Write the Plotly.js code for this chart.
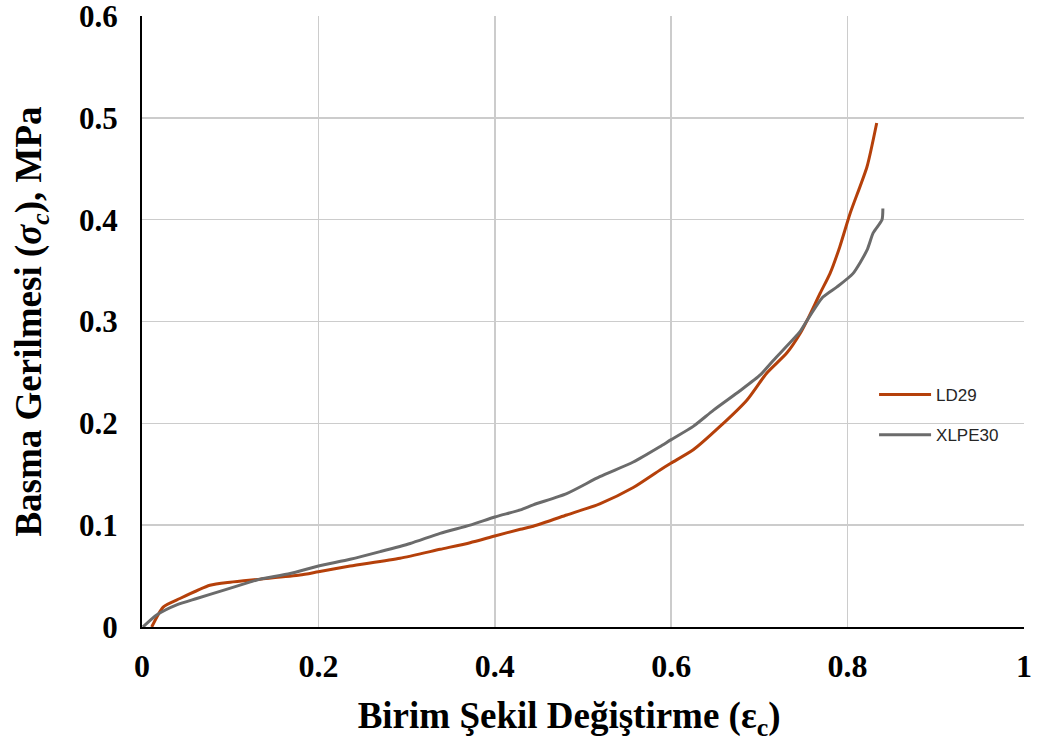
<!DOCTYPE html>
<html>
<head>
<meta charset="utf-8">
<script src="https://cdn.plot.ly/plotly-3.0.1.min.js"></script>
<style>html,body{margin:0;padding:0;background:#fff;}#chart{width:1037px;height:742px;}</style>
</head>
<body>
<div id="chart"></div>
<script>
// LD29 series (strain, stress MPa)
const ld29Strain = [0.011,0.024,0.043,0.077,0.1,0.134,0.179,0.2,0.236,0.2925,0.338,0.372,0.4,0.429,0.4436,0.4815,0.519,0.557,0.587,0.6,0.625,0.655,0.686,0.708,0.731,0.746,0.754,0.769,0.780,0.791,0.803,0.822,0.833];
const ld29Stress = [0,0.0196,0.028,0.041,0.044,0.047,0.051,0.0543,0.0599,0.0675,0.0763,0.0828,0.0894,0.096,0.099,0.110,0.121,0.137,0.154,0.161,0.174,0.1967,0.223,0.249,0.269,0.288,0.301,0.328,0.347,0.373,0.4065,0.452,0.495];
// XLPE30 series
const xlpeStrain = [0.001,0.017,0.04,0.062,0.092,0.122,0.134,0.168,0.2,0.236,0.270,0.304,0.338,0.372,0.400,0.429,0.4436,0.4815,0.519,0.557,0.587,0.6,0.625,0.648,0.678,0.701,0.716,0.746,0.754,0.772,0.788,0.806,0.822,0.829,0.839,0.840];
const xlpeStress = [0,0.012,0.022,0.028,0.036,0.044,0.047,0.0525,0.0599,0.0665,0.074,0.082,0.092,0.100,0.108,0.115,0.120,0.131,0.1476,0.162,0.177,0.184,0.197,0.213,0.232,0.2475,0.262,0.290,0.301,0.324,0.334,0.347,0.370,0.387,0.400,0.411];
const seriesNames = ["LD29", "XLPE30"];
const xTicks = [0, 0.2, 0.4, 0.6, 0.8, 1];
const xTickText = ["0", "0.2", "0.4", "0.6", "0.8", "1"];
const yTicks = [0, 0.1, 0.2, 0.3, 0.4, 0.5, 0.6];
const yTickText = ["0", "0.1", "0.2", "0.3", "0.4", "0.5", "0.6"];

const traces = [
  {x: ld29Strain, y: ld29Stress, name: seriesNames[0], type: 'scatter', mode: 'lines',
   line: {color: '#B5400A', width: 3, shape: 'spline', smoothing: 0.6}, legendgroup: 'a'},
  {x: xlpeStrain, y: xlpeStress, name: seriesNames[1], type: 'scatter', mode: 'lines',
   line: {color: '#6B6B6B', width: 3, shape: 'spline', smoothing: 0.6}, legendgroup: 'b'}
];

const serif = 'Liberation Serif, Times New Roman, serif';
const layout = {
  width: 1037, height: 742,
  paper_bgcolor: '#fff', plot_bgcolor: '#fff',
  margin: {l: 142, r: 13, t: 16, b: 115},
  showlegend: true,
  legend: {x: 0.83, y: 0.347, xanchor: 'left', yanchor: 'middle', bgcolor: 'rgba(0,0,0,0)',
           font: {family: 'Liberation Sans, Arial, sans-serif', size: 17, color: '#262626'},
           tracegroupgap: 15, itemwidth: 52},
  xaxis: {range: [0, 1], tickvals: xTicks, ticktext: xTickText, showgrid: true,
          gridcolor: '#cccccc', gridwidth: 1.5, zeroline: false, showline: true,
          linecolor: '#000', linewidth: 2, ticks: '', ticklabelstandoff: 10,
          ticklabeloverflow: 'allow',
          tickfont: {family: serif, size: 32, color: '#000', weight: 'bold'},
          title: {text: '<b>Birim Şekil Değiştirme (ε<sub>c</sub>)</b>&nbsp;&nbsp;&nbsp;', standoff: 19,
                  font: {family: serif, size: 37, color: '#000'}}},
  yaxis: {range: [0, 0.6], tickvals: yTicks, ticktext: yTickText, showgrid: true,
          gridcolor: '#cccccc', gridwidth: 1.5, zeroline: false, showline: true,
          linecolor: '#000', linewidth: 2, ticks: '', ticklabelstandoff: 16,
          ticklabeloverflow: 'allow',
          tickfont: {family: serif, size: 31, color: '#000', weight: 'bold'},
          title: {text: '<b>Basma Gerilmesi (<i>σ<sub>c</sub></i>), MPa</b>', standoff: 26,
                  font: {family: serif, size: 37, color: '#000'}}}
};
Plotly.newPlot('chart', traces, layout, {displayModeBar: false, staticPlot: true});
</script>
</body>
</html>
